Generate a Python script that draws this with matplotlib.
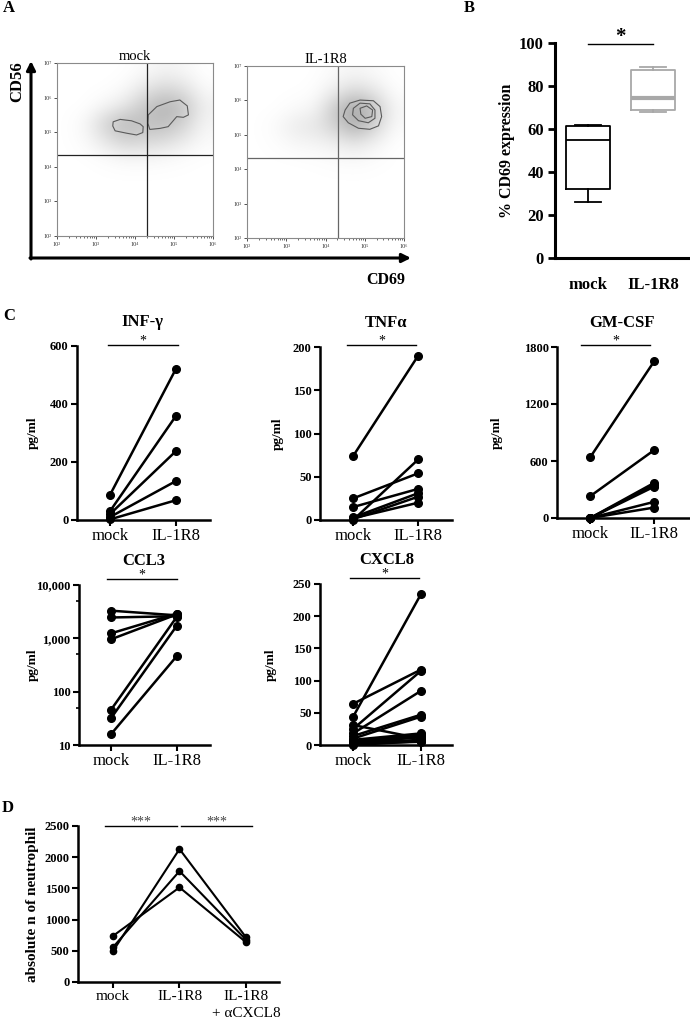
import numpy as np
import matplotlib.pyplot as plt
from matplotlib.colors import LinearSegmentedColormap
from matplotlib.patches import Polygon
from matplotlib.ticker import FixedLocator, NullFormatter
from matplotlib.transforms import ScaledTranslation

plt.rcParams['font.family'] = ['Liberation Serif', 'DejaVu Serif']

W, H = 690, 1023

# ---------------- A: flow cytometry (values in log10 units) ----------------
# density grid, rows from CD56 = 10^6.75 down to 10^2.25, cols CD69 10^2.25 .. 10^5.75
dens_mock = [
    [0, 0, 0, 0, 0.05, 0.12, 0.08, 0],
    [0, 0, 0, 0.05, 0.25, 0.40, 0.30, 0.05],
    [0, 0, 0.10, 0.25, 0.55, 0.75, 0.60, 0.15],
    [0, 0.08, 0.45, 0.70, 0.60, 0.65, 0.45, 0.10],
    [0, 0.05, 0.25, 0.45, 0.40, 0.35, 0.20, 0.05],
    [0, 0, 0.03, 0.08, 0.08, 0.05, 0.02, 0],
    [0] * 8, [0] * 8, [0] * 8, [0] * 8,
]
dens_il = [
    [0, 0, 0, 0, 0.05, 0.10, 0.05, 0],
    [0, 0, 0, 0.02, 0.20, 0.40, 0.25, 0.02],
    [0, 0, 0.05, 0.10, 0.55, 0.95, 0.60, 0.08],
    [0, 0.05, 0.20, 0.25, 0.45, 0.80, 0.45, 0.05],
    [0, 0.02, 0.08, 0.10, 0.15, 0.25, 0.12, 0],
    [0, 0, 0, 0.01, 0.03, 0.05, 0.02, 0],
    [0] * 8, [0] * 8, [0] * 8, [0] * 8,
]
gate_mock = (4.31, 4.34)
gate_il = (4.32, 4.33)
contours_mock = [
    [(3.44, 5.30), (3.62, 5.37), (3.91, 5.33), (4.13, 5.24), (4.21, 5.16),
     (4.20, 4.99), (4.04, 4.92), (3.79, 4.97), (3.49, 5.04), (3.43, 5.18)],
    [(4.34, 5.50), (4.56, 5.74), (4.90, 5.88), (5.15, 5.93), (5.34, 5.76),
     (5.37, 5.50), (5.24, 5.43), (5.07, 5.45), (4.85, 5.16), (4.64, 5.11),
     (4.38, 5.08), (4.33, 5.26)],
]
contours_il = [
    [(4.50, 5.72), (4.62, 5.92), (4.88, 6.01), (5.22, 5.99), (5.39, 5.82),
     (5.43, 5.53), (5.35, 5.26), (5.13, 5.16), (4.84, 5.19), (4.58, 5.35),
     (4.45, 5.53)],
    [(4.71, 5.77), (4.88, 5.92), (5.13, 5.90), (5.26, 5.72), (5.26, 5.48),
     (5.09, 5.35), (4.84, 5.41), (4.69, 5.58)],
    [(4.88, 5.77), (5.05, 5.84), (5.20, 5.72), (5.18, 5.53), (5.01, 5.48),
     (4.90, 5.60)],
]

# ---------------- B: % CD69 box plot ----------------
box_names = ['mock', 'IL-1R8']
box_min = [26, 68]
box_q1 = [32, 69]
box_med = [55, 74.5]
box_q3 = [61.5, 87.5]
box_max = [62, 89]

# ---------------- C: cytokines, paired mock / IL-1R8 ----------------
groups = ['mock', 'IL-1R8']
ifng_mock = [86, 30, 20, 10, 2]
ifng_il = [520, 358, 237, 134, 68]
tnf_mock = [74, 25, 15, 0, 3, 1, 2]
tnf_il = [190, 54, 36, 70, 31, 27, 20]
gm_mock = [640, 230, 0, 0, 0, 0, 0]
gm_il = [1650, 715, 370, 350, 330, 170, 110]
ccl3_mock = [3300, 2460, 1240, 960, 46, 32, 16]
ccl3_il = [2700, 2600, 2900, 2800, 2500, 1700, 460]
cxcl8_mock = [64, 44, 31, 25, 18, 14, 10, 8, 6, 4, 3, 2, 1, 0]
cxcl8_il = [117, 234, 10, 115, 84, 47, 44, 18, 15, 12, 8, 5, 14, 6]

# ---------------- D: neutrophils ----------------
d_groups = ['mock', 'IL-1R8', 'IL-1R8\n+ \u03b1CXCL8']
d_mock = [740, 500, 560]
d_il = [1516, 2130, 1777]
d_anti = [640, 720, 680]

fig = plt.figure(figsize=(W / 100, H / 100), dpi=100)

# overlay in pixel coordinates for arrows and panel letters
ov = fig.add_axes([0, 0, 1, 1])
ov.set_xlim(0, W)
ov.set_ylim(H, 0)
ov.axis('off')


def px_axes(x0, y0, x1, y1):
    return fig.add_axes([x0 / W, 1 - y1 / H, (x1 - x0) / W, (y1 - y0) / H])


def offset(ax, dy_px):
    return ax.get_xaxis_transform() + ScaledTranslation(0, dy_px / 100, fig.dpi_scale_trans)


for letter, (x, y) in zip('ABCD', [(9, 8), (469, 8), (9, 316), (8, 808)]):
    ov.text(x, y, letter, fontsize=12, fontweight='bold', ha='center', va='center')

# ---- A ----
gray_map = LinearSegmentedColormap.from_list('dots', ['#ffffff', '#9a9a9a'])
sup = {2: '\u00b2', 3: '\u00b3', 4: '\u2074', 5: '\u2075', 6: '\u2076', 7: '\u2077'}


def flow(box, dens, gate, contours, title, frame_c, gate_c):
    ax = px_axes(*box)
    ax.imshow(np.array(dens), extent=(2, 6, 2, 7), origin='upper', cmap=gray_map,
              vmin=0, vmax=1, interpolation='bicubic', aspect='auto', zorder=0)
    ax.set_xlim(2, 6)
    ax.set_ylim(2, 7)
    ax.axvline(gate[0], color=gate_c, lw=0.9)
    ax.axhline(gate[1], color=gate_c, lw=0.9)
    for c in contours:
        ax.add_patch(Polygon(c, closed=True, fill=False, ec='#5a5a5a', lw=0.8))
    for s in ax.spines.values():
        s.set_color(frame_c)
        s.set_linewidth(0.8)
    ax.set_xticks(range(2, 7))
    ax.set_xticklabels(['10' + sup[k] for k in range(2, 7)])
    ax.set_yticks(range(2, 8))
    ax.set_yticklabels(['10' + sup[k] for k in range(2, 8)])
    minor = [d + np.log10(k) for d in range(2, 7) for k in range(2, 10)]
    ax.xaxis.set_minor_locator(FixedLocator([m for m in minor if m < 6]))
    ax.tick_params(labelsize=4.5, length=2.5, width=0.6, pad=1.5, colors='#333333')
    ax.tick_params(which='minor', length=1.5, width=0.5, colors='#333333')
    ax.set_title(title, fontsize=10.5, pad=2)


flow((57, 63, 213, 236), dens_mock, gate_mock, contours_mock, 'mock', '#8a8a8a', '#222222')
flow((247, 66, 404, 238), dens_il, gate_il, contours_il, 'IL-1R8', '#8a8a8a', '#666666')

ov.annotate('', xy=(31, 61), xytext=(31, 259),
            arrowprops=dict(arrowstyle='-|>', lw=2.2, color='k', mutation_scale=13,
                            shrinkA=0, shrinkB=0))
ov.annotate('', xy=(411, 258), xytext=(30, 258),
            arrowprops=dict(arrowstyle='-|>', lw=2.2, color='k', mutation_scale=13,
                            shrinkA=0, shrinkB=0))
ov.text(17, 82, 'CD56', rotation=90, fontsize=12, fontweight='bold', ha='center', va='center')
ov.text(386, 280, 'CD69', fontsize=11.5, fontweight='bold', ha='center', va='center')

# ---- B ----
axb = px_axes(555, 43, 688, 258)
stats = [dict(med=m, q1=a, q3=b, whislo=lo, whishi=hi, label=n)
         for n, lo, a, m, b, hi in zip(box_names, box_min, box_q1, box_med, box_q3, box_max)]
for i, (st, col, mlw) in enumerate(zip(stats, ['k', '#a8a8a8'], [1.3, 3.0])):
    axb.bxp([st], positions=[i], widths=0.68, capwidths=0.4, showfliers=False,
            boxprops=dict(color=col, lw=1.3), medianprops=dict(color=col, lw=mlw),
            whiskerprops=dict(color=col, lw=1.3), capprops=dict(color=col, lw=1.3))
axb.set_xlim(-0.51, 1.54)
axb.set_ylim(0, 100)
axb.set_yticks(range(0, 101, 20))
axb.set_yticklabels([str(v) for v in range(0, 101, 20)], fontsize=12, fontweight='bold')
axb.set_xticks([0, 1])
axb.set_xticklabels(box_names, fontsize=12, fontweight='bold')
axb.tick_params(axis='x', length=0, pad=14)
axb.tick_params(axis='y', length=5, width=2, pad=3)
for s in ['top', 'right']:
    axb.spines[s].set_visible(False)
for s in ['left', 'bottom']:
    axb.spines[s].set_linewidth(2.2)
axb.set_ylabel('% CD69 expression', fontsize=11.5, fontweight='bold', va='center')
axb.yaxis.set_label_coords(-0.36, 0.5)
axb.plot([0, 1], [0, 0], transform=offset(axb, 214), color='k', lw=1, clip_on=False)
axb.text(0.5, 0, '*', transform=offset(axb, 221), ha='center', va='center',
         fontsize=15, fontweight='bold')


# ---- C ----
def paired(box, xlim, mock, il, ylim, yticks, yticklabels, title, bar, lab_x, log=False):
    ax = px_axes(*box)
    for a, b in zip(mock, il):
        ax.plot([0, 1], [a, b], color='k', lw=1.8, marker='o', ms=5.5,
                clip_on=False, zorder=3)
    if log:
        ax.set_yscale('log')
        ax.yaxis.set_minor_locator(FixedLocator([50, 500, 5000]))
        ax.yaxis.set_minor_formatter(NullFormatter())
    ax.set_xlim(*xlim)
    ax.set_ylim(*ylim)
    ax.set_yticks(yticks)
    ax.set_yticklabels(yticklabels, fontsize=9, fontweight='bold')
    ax.set_xticks([0, 1])
    ax.set_xticklabels(groups, fontsize=12)
    ax.tick_params(length=4, width=1.5, pad=2)
    ax.tick_params(which='minor', length=2.5, width=1.2)
    for s in ['top', 'right']:
        ax.spines[s].set_visible(False)
    for s in ['left', 'bottom']:
        ax.spines[s].set_linewidth(1.8)
    ax.set_ylabel('pg/ml', fontsize=9.5, fontweight='bold', va='center')
    ax.yaxis.set_label_coords(lab_x, 0.5)
    h = box[3] - box[1]
    bar_dy = bar[2]
    ax.plot(bar[:2], [0, 0], transform=offset(ax, bar_dy), color='k', lw=1, clip_on=False)
    ax.text(np.mean(bar[:2]), 0, '*', transform=offset(ax, bar_dy + 4), ha='center',
            va='center', fontsize=10)
    ax.text(0.5, 0, title, transform=offset(ax, h + 24), ha='center', va='center',
            fontsize=12, fontweight='bold')
    return ax


def lin_ticks(lo, hi, step):
    return list(range(lo, hi + 1, step))


t = lin_ticks(0, 600, 200)
paired((77, 346, 210, 520), (-0.5, 1.52), ifng_mock, ifng_il, (0, 600), t,
       [str(v) for v in t], 'INF-\u03b3', (-0.03, 1.03, 175), -0.33)
t = lin_ticks(0, 200, 50)
paired((320, 347, 452, 520), (-0.51, 1.52), tnf_mock, tnf_il, (0, 200), t,
       [str(v) for v in t], 'TNF\u03b1', (-0.1, 0.97, 175), -0.32)
t = lin_ticks(0, 1800, 600)
paired((557, 347, 690, 518), (-0.52, 1.56), gm_mock, gm_il, (0, 1800), t,
       [str(v) for v in t], 'GM-CSF', (-0.14, 0.94, 173), -0.45)
paired((79, 585, 210, 745), (-0.49, 1.51), ccl3_mock, ccl3_il, (10, 10000),
       [10, 100, 1000, 10000], ['10', '100', '1,000', '10,000'], 'CCL3',
       (-0.06, 1.0, 166), -0.35, log=True)
t = lin_ticks(0, 250, 50)
paired((320, 584, 452, 745), (-0.49, 1.46), cxcl8_mock, cxcl8_il, (0, 250), t,
       [str(v) for v in t], 'CXCL8', (-0.04, 0.97, 167), -0.37)

# ---- D ----
axd = px_axes(78, 826, 279, 982)
for a, b, c in zip(d_mock, d_il, d_anti):
    axd.plot([0, 1, 2], [a, b, c], color='k', lw=1.5, marker='o', ms=4.5, zorder=3)
axd.set_xlim(-0.53, 2.5)
axd.set_ylim(0, 2500)
t = lin_ticks(0, 2500, 500)
axd.set_yticks(t)
axd.set_yticklabels([str(v) for v in t], fontsize=9, fontweight='bold')
axd.set_xticks([0, 1, 2])
axd.set_xticklabels(d_groups, fontsize=11, linespacing=1.35)
axd.tick_params(length=4, width=1.5, pad=2)
for s in ['top', 'right']:
    axd.spines[s].set_visible(False)
for s in ['left', 'bottom']:
    axd.spines[s].set_linewidth(1.8)
axd.set_ylabel('absolute n of neutrophil', fontsize=11, fontweight='bold', va='center')
axd.yaxis.set_label_coords(-0.224, 0.5)
for x0, x1 in [(-0.12, 0.96), (1.02, 2.1)]:
    axd.plot([x0, x1], [0, 0], transform=offset(axd, 156), color='k', lw=1, clip_on=False)
    axd.text((x0 + x1) / 2, 0, '***', transform=offset(axd, 160), ha='center',
             va='center', fontsize=10, color='#444444')

fig.savefig('out.png', dpi=100)
